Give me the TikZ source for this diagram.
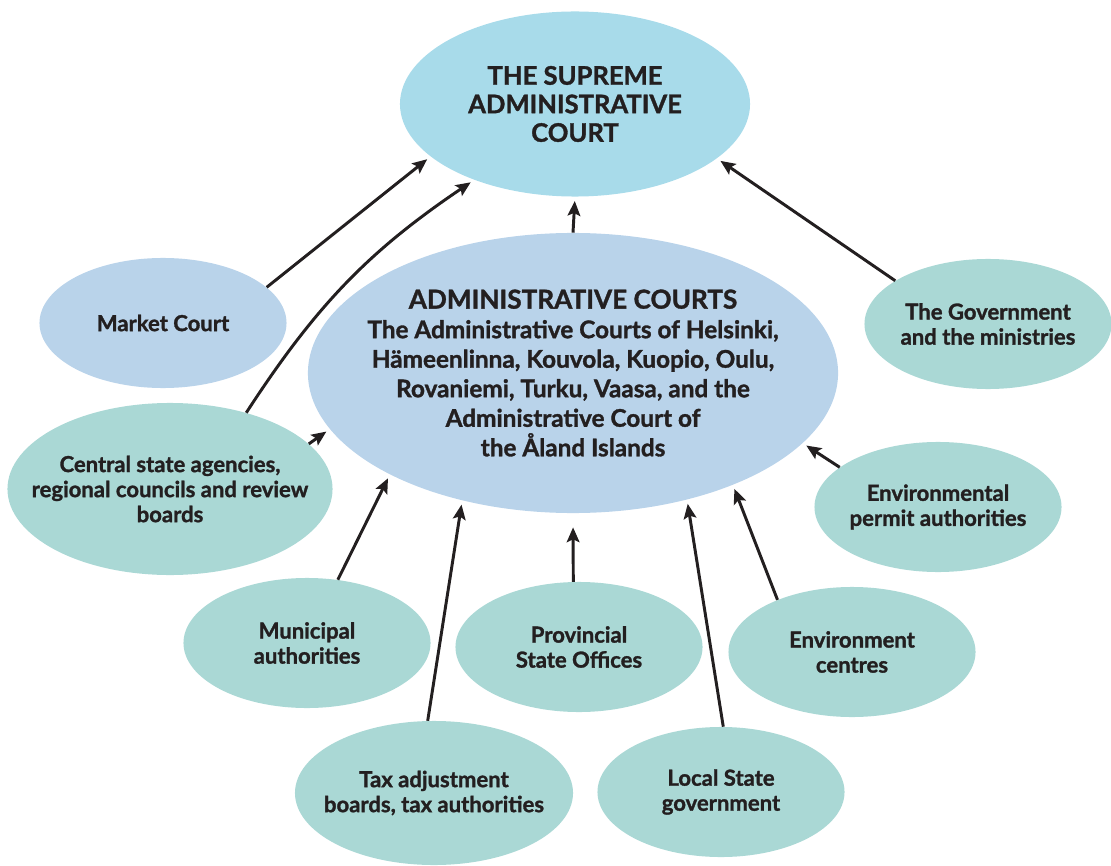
\documentclass[tikz,border=0pt]{standalone}
\usepackage{fontspec}
\setmainfont{Lato}[BoldFeatures={FakeBold=1.3}]
\usetikzlibrary{shapes.geometric, arrows.meta}
\definecolor{skyfill}{HTML}{A8DBEA}
\definecolor{courtfill}{HTML}{B9D3EA}
\definecolor{bodyfill}{HTML}{AAD8D5}
\definecolor{ink}{HTML}{231F20}
\tikzstyle{arrow} = [line width=2.1pt, draw=ink, -{Stealth[length=10.5pt,width=9pt,inset=2pt]}, shorten >=3pt]

\begin{document}
\begin{tikzpicture}[x=0.025cm, y=-0.025cm,
  main/.style = {ellipse, inner sep=0pt, minimum width=6.175cm, minimum height=3.25cm, fill=bodyfill},
  big/.style = {font=\bfseries\fontsize{17.3}{21}\selectfont, align=center, text=ink},
  small/.style = {font=\bfseries\fontsize{15.7}{17.8}\selectfont, align=center, text=ink}]
\useasboundingbox (0,0) rectangle (1111,866);

\node[main, fill=skyfill, minimum width=8.75cm, minimum height=4.625cm,
  label={[big, font=\bfseries\fontsize{18.2}{20.3}\selectfont]center:{THE SUPREME\\ADMINISTRATIVE\\COURT}}] (supreme) at (575,104) {};
\node[main, fill=courtfill, minimum width=13.25cm, minimum height=7cm,
  label={[big]center:{{\fontsize{18.6}{21}\selectfont ADMINISTRATIVE COURTS}\\The Administrative Courts of Helsinki,\\H\"ameenlinna, Kouvola, Kuopio, Oulu,\\Rovaniemi, Turku, Vaasa, and the\\Administrative Court of\\the \AA land Islands}}] (admin) at (573,373) {};
\node[main, fill=courtfill, label={[small]center:Market Court}] (market) at (163,323) {};
\node[main, minimum width=8.125cm, minimum height=4.3cm,
  label={[small]center:{Central state agencies,\\regional councils and review\\boards}}] (central) at (170,489) {};
\node[main, label={[small]center:{The Government\\and the ministries}}] (govt) at (988,324) {};
\node[main, label={[small]center:{Environmental\\permit authorities}}] (permit) at (938,507) {};
\node[main, label={[small]center:{Municipal\\authorities}}] (municipal) at (307,643) {};
\node[main, label={[small]center:{Provincial\\State Offices}}] (provincial) at (579,647) {};
\node[main, label={[small]center:{Environment\\centres}}] (envcentres) at (852,652) {};
\node[main, minimum width=6.95cm, minimum height=3.6cm,
  label={[small]center:{Tax adjustment\\boards, tax authorities}}] (tax) at (434,793) {};
\node[main, label={[small]center:{Local State\\government}}] (local) at (721,792) {};

% appeals to the supreme court
\draw[arrow] (market.19) -- (supreme.200);
\draw[arrow] (central.45) to[out=57,in=214] (supreme.217);
\draw[arrow] (admin.north) -- (supreme.south);
\draw[arrow] (govt.155) -- (supreme.339);

% appeals to the administrative courts
\draw[arrow] (central.18) -- (admin.193);
\draw[arrow] (municipal.64) -- (admin.209);
\draw[arrow] (tax.95) -- (admin.229);
\draw[arrow, shorten >=10pt] (provincial.95) -- (admin.south);
\draw[arrow] (local.88) -- (admin.312);
\draw[arrow] (envcentres.145) -- (admin.325);
\draw[arrow] (permit.158) -- (admin.343);
\end{tikzpicture}
\end{document}
